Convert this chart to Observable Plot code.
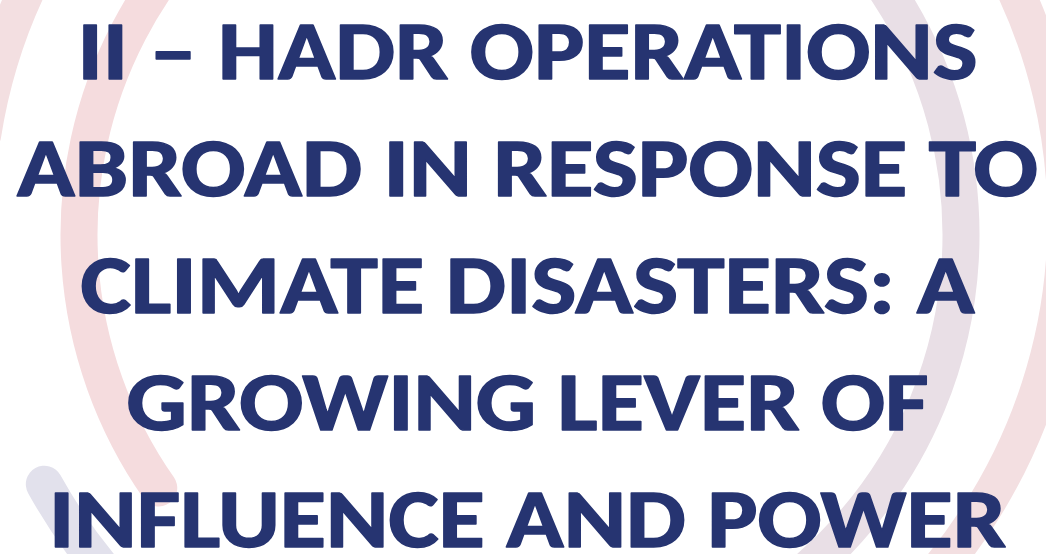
<!DOCTYPE html>
<html>
<head>
<meta charset="utf-8">
<script src="https://cdn.jsdelivr.net/npm/d3@7"></script>
<script src="https://cdn.jsdelivr.net/npm/@observablehq/plot@0.6"></script>
<style>
  html, body { margin: 0; padding: 0; background: #ffffff; overflow: hidden; }
  #chart svg { display: block; }
</style>
</head>
<body>
<div id="chart"></div>
<script>
// Title lines (content)
const titleLines = [
  "II – HADR OPERATIONS",
  "ABROAD IN RESPONSE TO",
  "CLIMATE DISASTERS: A",
  "GROWING LEVER OF",
  "INFLUENCE AND POWER"
];

// Rendered width of each line (px), as measured on the reference
const lineWidths = [900, 1021, 894, 802, 957];

// Decorative background rings (centre, radius, arc span in degrees, colour)
const ringCentres = [[520, 235], [521, 220]];
const ringRadii = [441, 545];
const ringArcs = [
  { ring: 0, from: 145, to: 270, color: "#f5dcde" },
  { ring: 0, from: 270, to: 420, color: "#e9dfe6" },
  { ring: 1, from: 189, to: 420, color: "#f3dfe1" },
  { ring: 1, from: 108, to: 151, color: "#e2e1ec" }
];

const NS = "http://www.w3.org/2000/svg";

function ringsMark() {
  const g = document.createElementNS(NS, "g");
  g.setAttribute("aria-label", "rings");
  for (const a of ringArcs) {
    const [cx, cy] = ringCentres[a.ring];
    const p = d3.path();
    p.arc(cx, cy, ringRadii[a.ring], a.from * Math.PI / 180, a.to * Math.PI / 180);
    const path = document.createElementNS(NS, "path");
    path.setAttribute("d", p.toString());
    path.setAttribute("fill", "none");
    path.setAttribute("stroke", a.color);
    path.setAttribute("stroke-width", 37);
    path.setAttribute("stroke-linecap", "round");
    g.appendChild(path);
  }
  return g;
}

const chart = Plot.plot({
  width: 1046,
  height: 554,
  marginTop: 0,
  marginBottom: 0,
  marginLeft: 8,
  marginRight: 0,
  style: { background: "#ffffff", overflow: "hidden" },
  y: { type: "point", domain: titleLines, range: [77.3, 546.3], padding: 0, axis: null },
  marks: [
    ringsMark,
    Plot.text(titleLines, {
      y: d => d,
      text: d => d,
      textAnchor: "middle",
      lineAnchor: "bottom",
      fill: "#263471",
      stroke: "#263471",
      strokeWidth: 1.5,
      strokeLinejoin: "round",
      fontSize: 83,
      fontWeight: "bold",
      fontFamily: "Carlito, Calibri, Lato, 'Open Sans', sans-serif"
    })
  ]
});

chart.querySelectorAll('g[aria-label="text"] text').forEach((t, i) => {
  t.setAttribute("textLength", lineWidths[i]);
  t.setAttribute("lengthAdjust", "spacingAndGlyphs");
});

document.getElementById("chart").appendChild(chart);
</script>
</body>
</html>
